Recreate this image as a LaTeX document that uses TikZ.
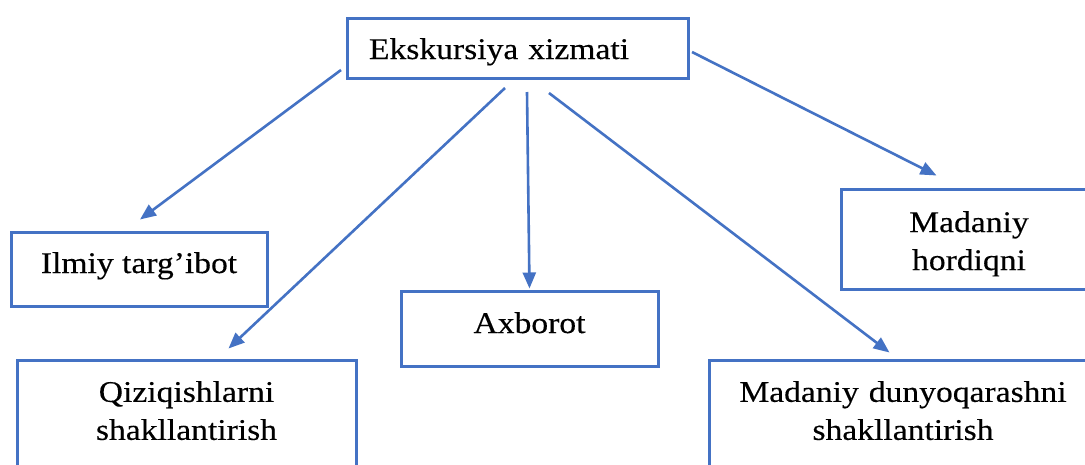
\documentclass[tikz,border=0pt]{standalone}
\usepackage{fontspec}
\setmainfont{Liberation Serif}[FakeStretch=1.12,FakeBold=0.3]
\usetikzlibrary{arrows.meta,calc}
\definecolor{lineblue}{HTML}{4472C4}
\tikzset{
  box/.style={draw=lineblue, line width=3pt, rectangle, inner sep=0pt,
    font=\fontsize{30}{38}\selectfont, text=black},
  arr/.style={draw=lineblue, line width=2.6pt, -{Triangle[length=16pt,width=13pt]}}
}
\begin{document}
\begin{tikzpicture}[x=1pt,y=-1pt]
\useasboundingbox (0,0) rectangle (1085,464);
\clip (0,0) rectangle (1085,464);
\fill[white] (0,0) rectangle (1085,464);
% boxes
\node[box, minimum width=341pt, minimum height=60pt, text width=297pt, align=left,
      text height=22pt, text depth=0pt] (top) at (517.5,48) {Ekskursiya xizmati};
\node[box, minimum width=256pt, minimum height=74pt, align=center,
      text height=20pt, text depth=12pt] (ilmiy) at (139,269) {Ilmiy targ’ibot};
\node[box, minimum width=257pt, minimum height=75pt, align=center,
      text height=20pt, text depth=11pt] (axborot) at (529.5,328.5) {Axborot};
\node[box, minimum width=256pt, minimum height=100pt, text width=240pt, align=center,
      text height=30.5pt] (hordiq) at (969,239) {Madaniy\\hordiqni};
\node[box, minimum width=339pt, minimum height=110pt, text width=320pt, align=center,
      text height=12pt] (qiziq) at (186.5,415) {Qiziqishlarni\\shakllantirish};
\node[box, minimum width=388pt, minimum height=110pt, text width=370pt, align=center,
      text height=12pt] (dunyo) at (903,415) {Madaniy dunyoqarashni\\shakllantirish};
% arrow start points
\coordinate (s1) at (341,70);
\coordinate (s2) at (505,88);
\coordinate (s3) at (527,92);
\coordinate (s4) at (549,93);
\coordinate (s5) at (692,52);
% arrows
\draw[arr] (s1) -- ($(ilmiy.north)+(1,-11)$);
\draw[arr] (s2) -- ($(qiziq.north west)+(213,-10)$);
\draw[arr] (s3) -- ($(axborot.north)+(0,-1)$);
\draw[arr] (s4) -- ($(dunyo.north west)+(182,-6)$);
\draw[arr] (s5) -- ($(hordiq.north west)+(97,-12)$);
\end{tikzpicture}
\end{document}
